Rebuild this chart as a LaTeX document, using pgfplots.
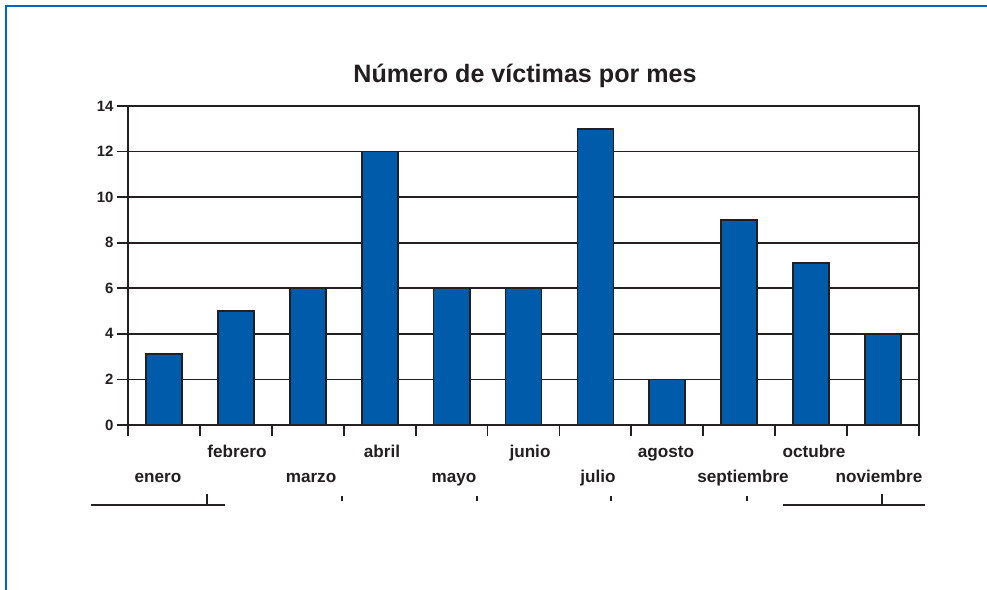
\documentclass[border=0pt]{standalone}
\usepackage{fontspec}
\setmainfont{Liberation Sans}
\usepackage{pgfplots}
\pgfplotsset{compat=1.18}
\definecolor{barblue}{RGB}{0,91,170}
\definecolor{frameblue}{RGB}{0,102,196}
\definecolor{dark}{RGB}{35,31,32}
\begin{document}
\begin{tikzpicture}[x=1bp,y=1bp]
\path[use as bounding box] (0,0) rectangle (987,590);
\fill[white] (0,0) rectangle (987,590);
\draw[frameblue, line width=2.2bp] (5.8,0) -- (5.8,584) -- (987,584);
\begin{axis}[at={(128bp,165bp)}, anchor=south west, scale only axis,
  width=791bp, height=319bp,
  xmin=0.5, xmax=11.5, ymin=0, ymax=14,
  ytick={0,2,...,14}, xtick={0.5,1.5,...,11.5}, xticklabels={},
  tick pos=left, tick align=outside, major tick length=11bp,
  ymajorgrids, grid style={dark, line width=1.8bp},
  axis line style={dark, line width=1.8bp},
  every tick/.style={dark, line width=1.8bp},
  yticklabel style={font=\bfseries\fontsize{15}{18}\selectfont, text=dark},
  /pgf/number format/assume math mode=true,
  ybar, bar width=36bp,
]
\addplot[fill=barblue, draw=dark, line width=1.8bp] coordinates {(1,3.1)(2,5)(3,6)(4,12)(5,6)(6,6)(7,13)(8,2)(9,9)(10,7.1)(11,4)};
\end{axis}
\begin{scope}[every node/.style={anchor=base, font=\bfseries\fontsize{17.2}{20}\selectfont, text=dark, inner sep=0pt}]
\node at (237,132) {febrero};
\node at (382,132) {abril};
\node at (530,132) {junio};
\node at (666,132) {agosto};
\node at (814,132) {octubre};
\node at (158,107) {enero};
\node at (311,107) {marzo};
\node at (454,107) {mayo};
\node at (598,107) {julio};
\node at (743,107) {septiembre};
\node at (879,107) {noviembre};
\end{scope}
\node[anchor=base, font=\bfseries\fontsize{25.2}{30}\selectfont, text=dark, inner sep=0pt] at (525,507) {Número de víctimas por mes};
\draw[dark, line width=1.5bp] (91,85) -- (225,85) (207,85) -- (207,96);
\draw[dark, line width=1.5bp] (783,85) -- (925,85) (882,85) -- (882,96);
\foreach \xx in {342,477,611,747} \draw[dark, line width=1.3bp] (\xx,89) -- (\xx,94);
\end{tikzpicture}
\end{document}
